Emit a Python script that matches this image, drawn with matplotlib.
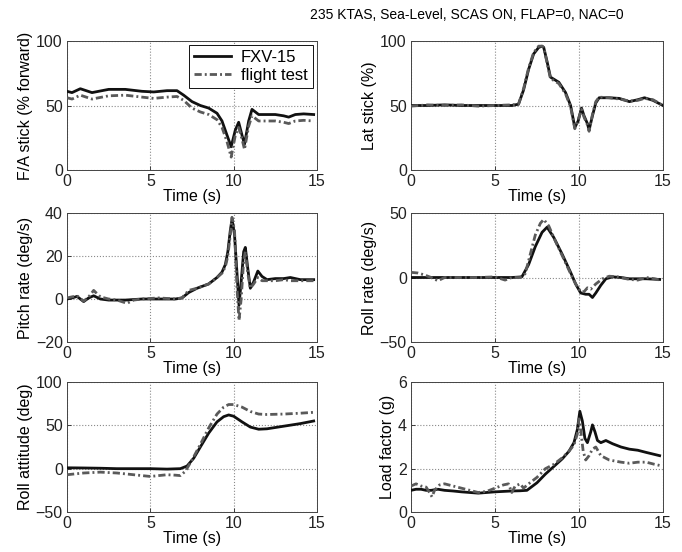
import matplotlib
matplotlib.use("Agg")
import matplotlib.pyplot as plt

plt.rcParams['font.family'] = ['Liberation Sans', 'DejaVu Sans']

title_text = "235 KTAS, Sea-Level, SCAS ON, FLAP=0, NAC=0"
series_names = ["FXV-15", "flight test"]
x_label = "Time (s)"
x_ticks = [0, 5, 10, 15]

# ---- F/A stick ----
fa_t = [0, 0.3, 0.8, 1.5, 2.5, 3.5, 4.5, 5.2, 6.0, 6.6, 7.0, 7.5, 8.0, 8.5, 9.0, 9.3, 9.6, 9.85,
        10.1, 10.3, 10.5, 10.65, 10.9, 11.1, 11.5, 12.0, 12.5, 13.0, 13.3, 13.7, 14.2, 14.8]
fa_sim = [61, 60, 63, 60, 62.5, 62.5, 61, 60.5, 61.5, 61.5, 58, 53, 50, 48, 44, 38, 27, 18,
          31, 37, 27, 20, 38, 47, 43, 43, 43, 42, 41, 43, 43.5, 43]
fa_ft = [56, 55, 58, 55, 57.5, 58, 56.5, 55.5, 56.5, 57, 54, 48, 45, 43, 39, 33, 22, 10,
         27, 33, 24, 16, 34, 42, 38, 38, 38, 37, 36, 38, 38.5, 38]

# ---- Lat stick ----
lat_t = [0, 1, 2, 3, 4, 5, 6, 6.4, 6.7, 7.0, 7.3, 7.6, 7.8, 7.9, 8.1, 8.3, 8.8, 9.2, 9.5, 9.75,
         9.95, 10.15, 10.3, 10.5, 10.6, 10.8, 11.0, 11.2, 11.8, 12.4, 13.0, 13.5, 13.9, 14.4, 15.0]
lat_sim = [50, 50, 50.5, 50, 50, 50, 50, 51, 62, 78, 90, 95, 96, 95, 84, 72, 68, 60, 50, 33,
           38, 48, 42, 36, 31, 42, 52, 56, 56, 55.5, 53, 54.5, 56, 54, 50]
lat_ft = [49.5, 50.5, 50, 50.5, 49.5, 50, 50.5, 51, 63, 79, 91, 96, 96, 95, 83, 71, 67, 59, 49, 32,
          39, 47, 41, 35, 30, 43, 53, 56.5, 56, 55, 53.5, 54, 55.5, 54.5, 50]

# ---- Pitch rate ----
q_t_sim = [0, 0.3, 0.6, 1.0, 1.3, 1.6, 2.0, 2.5, 3.5, 4.5, 5.5, 6.5, 6.9, 7.3, 7.8, 8.5, 9.0, 9.3,
           9.5, 9.65, 9.8, 9.9, 10.05, 10.2, 10.32, 10.45, 10.6, 10.7, 10.85, 11.0, 11.2, 11.45,
           11.7, 12.0, 12.5, 13.0, 13.4, 14.0, 14.8]
q_sim = [0, 0.5, 1.2, -1.2, 0.5, 1.5, 0, -0.5, -0.5, 0, 0, 0, 0.5, 3, 5, 7, 10, 12.5,
         16, 22, 32, 37, 30, 12, -3, 8, 22, 24, 14, 5, 8, 13,
         10.5, 9, 9.5, 9.5, 10, 9, 9]
q_t_ft = [0, 0.3, 0.6, 1.0, 1.3, 1.6, 2.0, 2.5, 3.0, 3.6, 4.0, 4.5, 5.5, 6.5, 6.9, 7.3, 7.8, 8.5,
          9.0, 9.3, 9.5, 9.65, 9.8, 9.9, 10.05, 10.2, 10.32, 10.45, 10.6, 10.7, 10.85, 11.0,
          11.2, 11.45, 11.7, 12.0, 12.5, 13.0, 13.4, 14.0, 14.8]
q_ft = [0.5, 1, 1.5, -1, 1, 4, 1, 0, -0.5, -2, -0.5, 0, 0.5, 0, 0.5, 4, 5, 7,
        10, 12, 15, 20, 30, 38, 32, 5, -10, 0, 18, 22, 12, 5,
        7, 10, 8.5, 8.5, 8.5, 9, 8.5, 8.5, 8.5]

# ---- Roll rate ----
p_t_sim = [0, 1, 2, 3, 4, 5, 6, 6.6, 7.0, 7.4, 7.8, 8.1, 8.5, 9.0, 9.5, 9.8, 10.1, 10.4, 10.6,
           10.8, 11.0, 11.3, 11.6, 12.0, 12.5, 13.0, 14.0, 14.8]
p_sim = [0, 0, 0, 0, 0, 0, 0, 0.5, 10, 24, 35, 39, 31, 18, 4, -5, -12, -13, -13,
         -15.5, -12, -6, -1, 0.5, 0, -1, -1, -1.5]
p_t_ft = [0, 0.4, 0.8, 1.2, 1.6, 2.0, 3, 4, 5, 5.6, 6, 6.5, 6.8, 7.1, 7.4, 7.7, 7.9, 8.2, 8.6,
          9.0, 9.5, 9.8, 10.1, 10.3, 10.5, 10.7, 11.0, 11.4, 11.8, 12.3, 13.0, 13.5, 14.0, 14.5, 14.8]
p_ft = [4, 3.5, 2, 0, -2.5, 0, 0, 0, 0.5, -2, 0, 0, 3, 18, 33, 42, 45, 40, 28,
        17, 3, -5, -11, -11, -8, -9, -5, -1, 1, 0.5, -1.5, -2, 0, -1, -2]

# ---- Roll attitude ----
phi_t_sim = [0, 1, 2, 3, 4, 5, 6, 6.8, 7.2, 7.6, 8.0, 8.5, 9.0, 9.4, 9.7, 10.0, 10.5, 11.0,
             11.5, 12.0, 13.0, 14.0, 14.8]
phi_sim = [1, 0.8, 0.5, 0, 0, 0, -0.5, 0, 3, 12, 25, 41, 54, 60, 62, 60.5, 54, 48,
           45.5, 46, 49, 52, 55]
phi_t_ft = [0, 0.5, 1, 1.5, 2, 2.5, 3, 3.5, 4, 4.5, 5, 5.5, 6, 6.5, 6.8, 7.1, 7.5, 8.0, 8.5,
            9.0, 9.4, 9.7, 10.0, 10.5, 11.0, 11.5, 12.0, 13.0, 14.0, 14.8]
phi_ft = [-7, -6, -5, -4.5, -4, -4.5, -5, -6, -7, -8, -9, -8, -7, -7.5, -8, -3, 10, 28, 47,
          63, 71, 74, 74, 71, 66, 63, 62.5, 63, 64, 65]

# ---- Load factor ----
nz_t_sim = [0, 0.3, 0.6, 0.9, 1.2, 1.6, 2.0, 2.5, 3.0, 3.5, 4.0, 4.5, 5.0, 5.5, 6.0, 6.5, 6.9,
            7.5, 8.0, 8.5, 9.0, 9.4, 9.7, 9.9, 10.05, 10.2, 10.35, 10.5, 10.7, 10.8, 10.95,
            11.1, 11.3, 11.6, 12.0, 12.5, 13.0, 13.5, 14.0, 14.8]
nz_sim = [1.0, 1.05, 1.05, 1.0, 1.0, 1.05, 1.0, 0.97, 0.93, 0.9, 0.87, 0.9, 0.93, 0.95, 0.97,
          0.98, 1.0, 1.35, 1.75, 2.1, 2.45, 2.8, 3.2, 3.8, 4.65, 4.2, 3.4, 3.2, 3.7, 4.02, 3.7,
          3.3, 3.2, 3.3, 3.15, 3.0, 2.9, 2.85, 2.75, 2.6]
nz_t_ft = [0, 0.3, 0.6, 0.9, 1.1, 1.25, 1.4, 1.7, 2.0, 2.5, 3.0, 3.5, 4.0, 4.5, 5.0, 5.5, 5.8,
           6.0, 6.2, 6.5, 6.7, 7.0, 7.5, 8.0, 8.5, 9.0, 9.4, 9.7, 9.9, 10.0, 10.1, 10.25, 10.4,
           10.6, 10.8, 11.0, 11.3, 11.8, 12.5, 13.0, 13.5, 14.0, 14.5, 14.8]
nz_ft = [1.2, 1.3, 1.2, 1.15, 0.9, 0.7, 1.0, 1.25, 1.3, 1.2, 1.1, 1.0, 0.9, 0.95, 1.1, 1.25, 1.3,
         0.9, 1.2, 1.3, 1.1, 1.3, 1.6, 2.0, 2.2, 2.5, 2.8, 3.1, 3.6, 4.3, 3.8, 2.8, 2.4,
         2.6, 2.9, 3.0, 2.6, 2.4, 2.3, 2.25, 2.3, 2.3, 2.2, 2.15]

y_labels = ["F/A stick (% forward)", "Lat stick (%)", "Pitch rate (deg/s)",
            "Roll rate (deg/s)", "Roll attitude (deg)", "Load factor (g)"]
y_ticks = [[0, 50, 100], [0, 50, 100], [-20, 0, 20, 40],
           [-50, 0, 50], [-50, 0, 50, 100], [0, 2, 4, 6]]

panels = [
    (fa_t, fa_sim, fa_t, fa_ft),
    (lat_t, lat_sim, lat_t, lat_ft),
    (q_t_sim, q_sim, q_t_ft, q_ft),
    (p_t_sim, p_sim, p_t_ft, p_ft),
    (phi_t_sim, phi_sim, phi_t_ft, phi_ft),
    (nz_t_sim, nz_sim, nz_t_ft, nz_ft),
]

fig = plt.figure(figsize=(6.82, 5.52), dpi=100)
W, H = 682.0, 552.0
col_x = [(67, 317), (411, 663)]
row_y = [(41, 170), (213, 342), (382, 512)]

for i, (ts, ys, tf, yf) in enumerate(panels):
    r, c = divmod(i, 2)
    x0, x1 = col_x[c]
    y0, y1 = row_y[r]
    ax = fig.add_axes([x0 / W, 1 - y1 / H, (x1 - x0) / W, (y1 - y0) / H])
    ax.plot(ts, ys, color='#111111', lw=2.0, label=series_names[0], zorder=3)
    ax.plot(tf, yf, color='#5a5a5a', lw=2.0, linestyle=(0, (2.6, 1.1, 0.7, 1.1)),
            label=series_names[1], zorder=4)
    ax.set_xlim(0, 15)
    ax.set_ylim(y_ticks[i][0], y_ticks[i][-1])
    ax.set_xticks(x_ticks)
    ax.set_yticks(y_ticks[i])
    ax.grid(True, linestyle=':', color='#8a8a8a', lw=0.8)
    ax.tick_params(direction='in', length=3, width=0.6, labelsize=11.5, pad=3, colors='#222222')
    for s in ax.spines.values():
        s.set_linewidth(0.7)
        s.set_color('#444444')
    ax.set_xlabel(x_label, fontsize=11.5, labelpad=0)
    ax.set_ylabel(y_labels[i], fontsize=11.5, labelpad=2)
    if i == 0:
        leg = ax.legend(loc='upper right', fontsize=12, fancybox=False, framealpha=1,
                        edgecolor='#111111', borderpad=0.3, handlelength=2.2,
                        labelspacing=0.15, handletextpad=0.6, borderaxespad=0.25)
        leg.get_frame().set_linewidth(0.7)

fig.text(310 / W, 1 - 15 / H, title_text, fontsize=10, ha='left', va='center')

fig.savefig("out.png", dpi=100)
